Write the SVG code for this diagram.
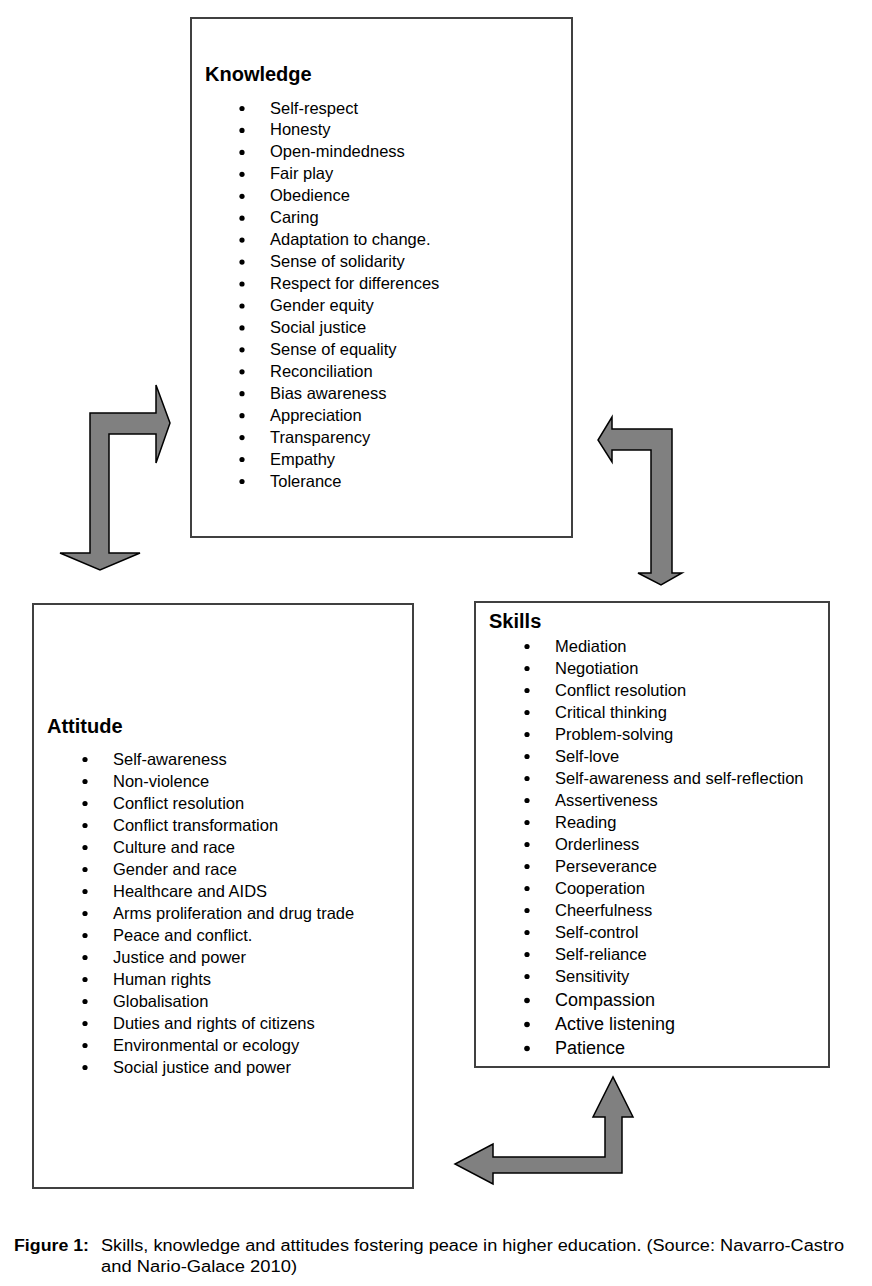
<svg xmlns="http://www.w3.org/2000/svg" width="872" height="1286" viewBox="0 0 872 1286">
<style>
.box{fill:#fff;stroke:#404040;stroke-width:2}
.arr{fill:#808080;stroke:#000;stroke-width:1.5;stroke-linejoin:miter}
.h{font-family:"Liberation Sans",Arial,sans-serif;font-weight:bold;font-size:20px;fill:#000}
.t{font-family:"Liberation Sans",Arial,sans-serif;font-size:16.5px;fill:#000}
.tb{font-family:"Liberation Sans",Arial,sans-serif;font-size:18px;fill:#000}
.c{font-family:"Liberation Sans",Arial,sans-serif;font-size:16px;fill:#000}
.b{fill:#000}
</style>
<rect width="872" height="1286" fill="#fff"/>
<g id="connectors">
<polygon class="arr" points="90,413 156,413 156,385 170,423 156,463 156,434 109,434 109,553 140,553 100,570 60,553 90,553"/>
<polygon class="arr" points="672,429 612,429 612,417 598,440 612,462 612,450 651,450 651,573 638,573 661,585 682,573 672,573"/>
<polygon class="arr" points="622,1173 493,1173 493,1184 455,1164 493,1144 493,1157 605,1157 605,1117 593,1117 613,1077 633,1117 622,1117"/>
</g>
<g id="knowledge">
<rect class="box" x="191" y="18" width="381" height="519"/>
<text class="h" x="205" y="81">Knowledge</text>
<g class="b">
<circle cx="242" cy="108.5" r="2.6"/><circle cx="242" cy="130.4" r="2.6"/><circle cx="242" cy="152.4" r="2.6"/><circle cx="242" cy="174.3" r="2.6"/><circle cx="242" cy="196.3" r="2.6"/><circle cx="242" cy="218.2" r="2.6"/><circle cx="242" cy="240.1" r="2.6"/><circle cx="242" cy="262.1" r="2.6"/><circle cx="242" cy="284" r="2.6"/><circle cx="242" cy="306" r="2.6"/><circle cx="242" cy="327.9" r="2.6"/><circle cx="242" cy="349.8" r="2.6"/><circle cx="242" cy="371.8" r="2.6"/><circle cx="242" cy="393.7" r="2.6"/><circle cx="242" cy="415.7" r="2.6"/><circle cx="242" cy="437.6" r="2.6"/><circle cx="242" cy="459.5" r="2.6"/><circle cx="242" cy="481.5" r="2.6"/>
</g>
<text class="t" x="270" y="113.5">Self-respect</text>
<text class="t" x="270" y="135.4">Honesty</text>
<text class="t" x="270" y="157.4">Open-mindedness</text>
<text class="t" x="270" y="179.3">Fair play</text>
<text class="t" x="270" y="201.3">Obedience</text>
<text class="t" x="270" y="223.2">Caring</text>
<text class="t" x="270" y="245.1">Adaptation to change.</text>
<text class="t" x="270" y="267.1">Sense of solidarity</text>
<text class="t" x="270" y="289">Respect for differences</text>
<text class="t" x="270" y="311">Gender equity</text>
<text class="t" x="270" y="332.9">Social justice</text>
<text class="t" x="270" y="354.8">Sense of equality</text>
<text class="t" x="270" y="376.8">Reconciliation</text>
<text class="t" x="270" y="398.7">Bias awareness</text>
<text class="t" x="270" y="420.7">Appreciation</text>
<text class="t" x="270" y="442.6">Transparency</text>
<text class="t" x="270" y="464.5">Empathy</text>
<text class="t" x="270" y="486.5">Tolerance</text>
</g>
<g id="attitude">
<rect class="box" x="33" y="604" width="380" height="584"/>
<text class="h" x="47" y="733">Attitude</text>
<g class="b">
<circle cx="85" cy="759.5" r="2.6"/><circle cx="85" cy="781.5" r="2.6"/><circle cx="85" cy="803.5" r="2.6"/><circle cx="85" cy="825.5" r="2.6"/><circle cx="85" cy="847.5" r="2.6"/><circle cx="85" cy="869.5" r="2.6"/><circle cx="85" cy="891.5" r="2.6"/><circle cx="85" cy="913.5" r="2.6"/><circle cx="85" cy="935.5" r="2.6"/><circle cx="85" cy="957.5" r="2.6"/><circle cx="85" cy="979.5" r="2.6"/><circle cx="85" cy="1001.5" r="2.6"/><circle cx="85" cy="1023.5" r="2.6"/><circle cx="85" cy="1045.5" r="2.6"/><circle cx="85" cy="1067.5" r="2.6"/>
</g>
<text class="t" x="113" y="764.5">Self-awareness</text>
<text class="t" x="113" y="786.5">Non-violence</text>
<text class="t" x="113" y="808.5">Conflict resolution</text>
<text class="t" x="113" y="830.5">Conflict transformation</text>
<text class="t" x="113" y="852.5">Culture and race</text>
<text class="t" x="113" y="874.5">Gender and race</text>
<text class="t" x="113" y="896.5">Healthcare and AIDS</text>
<text class="t" x="113" y="918.5">Arms proliferation and drug trade</text>
<text class="t" x="113" y="940.5">Peace and conflict.</text>
<text class="t" x="113" y="962.5">Justice and power</text>
<text class="t" x="113" y="984.5">Human rights</text>
<text class="t" x="113" y="1006.5">Globalisation</text>
<text class="t" x="113" y="1028.5">Duties and rights of citizens</text>
<text class="t" x="113" y="1050.5">Environmental or ecology</text>
<text class="t" x="113" y="1072.5">Social justice and power</text>
</g>
<g id="skills">
<rect class="box" x="475" y="602" width="354" height="465"/>
<text class="h" x="489" y="628">Skills</text>
<g class="b">
<circle cx="527" cy="646.5" r="2.6"/><circle cx="527" cy="668.5" r="2.6"/><circle cx="527" cy="690.5" r="2.6"/><circle cx="527" cy="712.5" r="2.6"/><circle cx="527" cy="734.5" r="2.6"/><circle cx="527" cy="756.5" r="2.6"/><circle cx="527" cy="778.5" r="2.6"/><circle cx="527" cy="800.5" r="2.6"/><circle cx="527" cy="822.5" r="2.6"/><circle cx="527" cy="844.5" r="2.6"/><circle cx="527" cy="866.5" r="2.6"/><circle cx="527" cy="888.5" r="2.6"/><circle cx="527" cy="910.5" r="2.6"/><circle cx="527" cy="932.5" r="2.6"/><circle cx="527" cy="954.5" r="2.6"/><circle cx="527" cy="976.5" r="2.6"/><circle cx="527" cy="1000.5" r="2.8"/><circle cx="527" cy="1024.5" r="2.8"/><circle cx="527" cy="1048.5" r="2.8"/>
</g>
<text class="t" x="555" y="651.5">Mediation</text>
<text class="t" x="555" y="673.5">Negotiation</text>
<text class="t" x="555" y="695.5">Conflict resolution</text>
<text class="t" x="555" y="717.5">Critical thinking</text>
<text class="t" x="555" y="739.5">Problem-solving</text>
<text class="t" x="555" y="761.5">Self-love</text>
<text class="t" x="555" y="783.5">Self-awareness and self-reflection</text>
<text class="t" x="555" y="805.5">Assertiveness</text>
<text class="t" x="555" y="827.5">Reading</text>
<text class="t" x="555" y="849.5">Orderliness</text>
<text class="t" x="555" y="871.5">Perseverance</text>
<text class="t" x="555" y="893.5">Cooperation</text>
<text class="t" x="555" y="915.5">Cheerfulness</text>
<text class="t" x="555" y="937.5">Self-control</text>
<text class="t" x="555" y="959.5">Self-reliance</text>
<text class="t" x="555" y="981.5">Sensitivity</text>
<text class="tb" x="555" y="1006">Compassion</text>
<text class="tb" x="555" y="1030">Active listening</text>
<text class="tb" x="555" y="1054">Patience</text>
</g>
<g id="caption">
<text class="c" x="14" y="1251" font-weight="bold" textLength="75" lengthAdjust="spacingAndGlyphs">Figure 1:</text>
<text class="c" x="101" y="1251" textLength="743" lengthAdjust="spacingAndGlyphs">Skills, knowledge and attitudes fostering peace in higher education. (Source: Navarro-Castro</text>
<text class="c" x="101" y="1272" textLength="196" lengthAdjust="spacingAndGlyphs">and Nario-Galace 2010)</text>
</g>
</svg>
